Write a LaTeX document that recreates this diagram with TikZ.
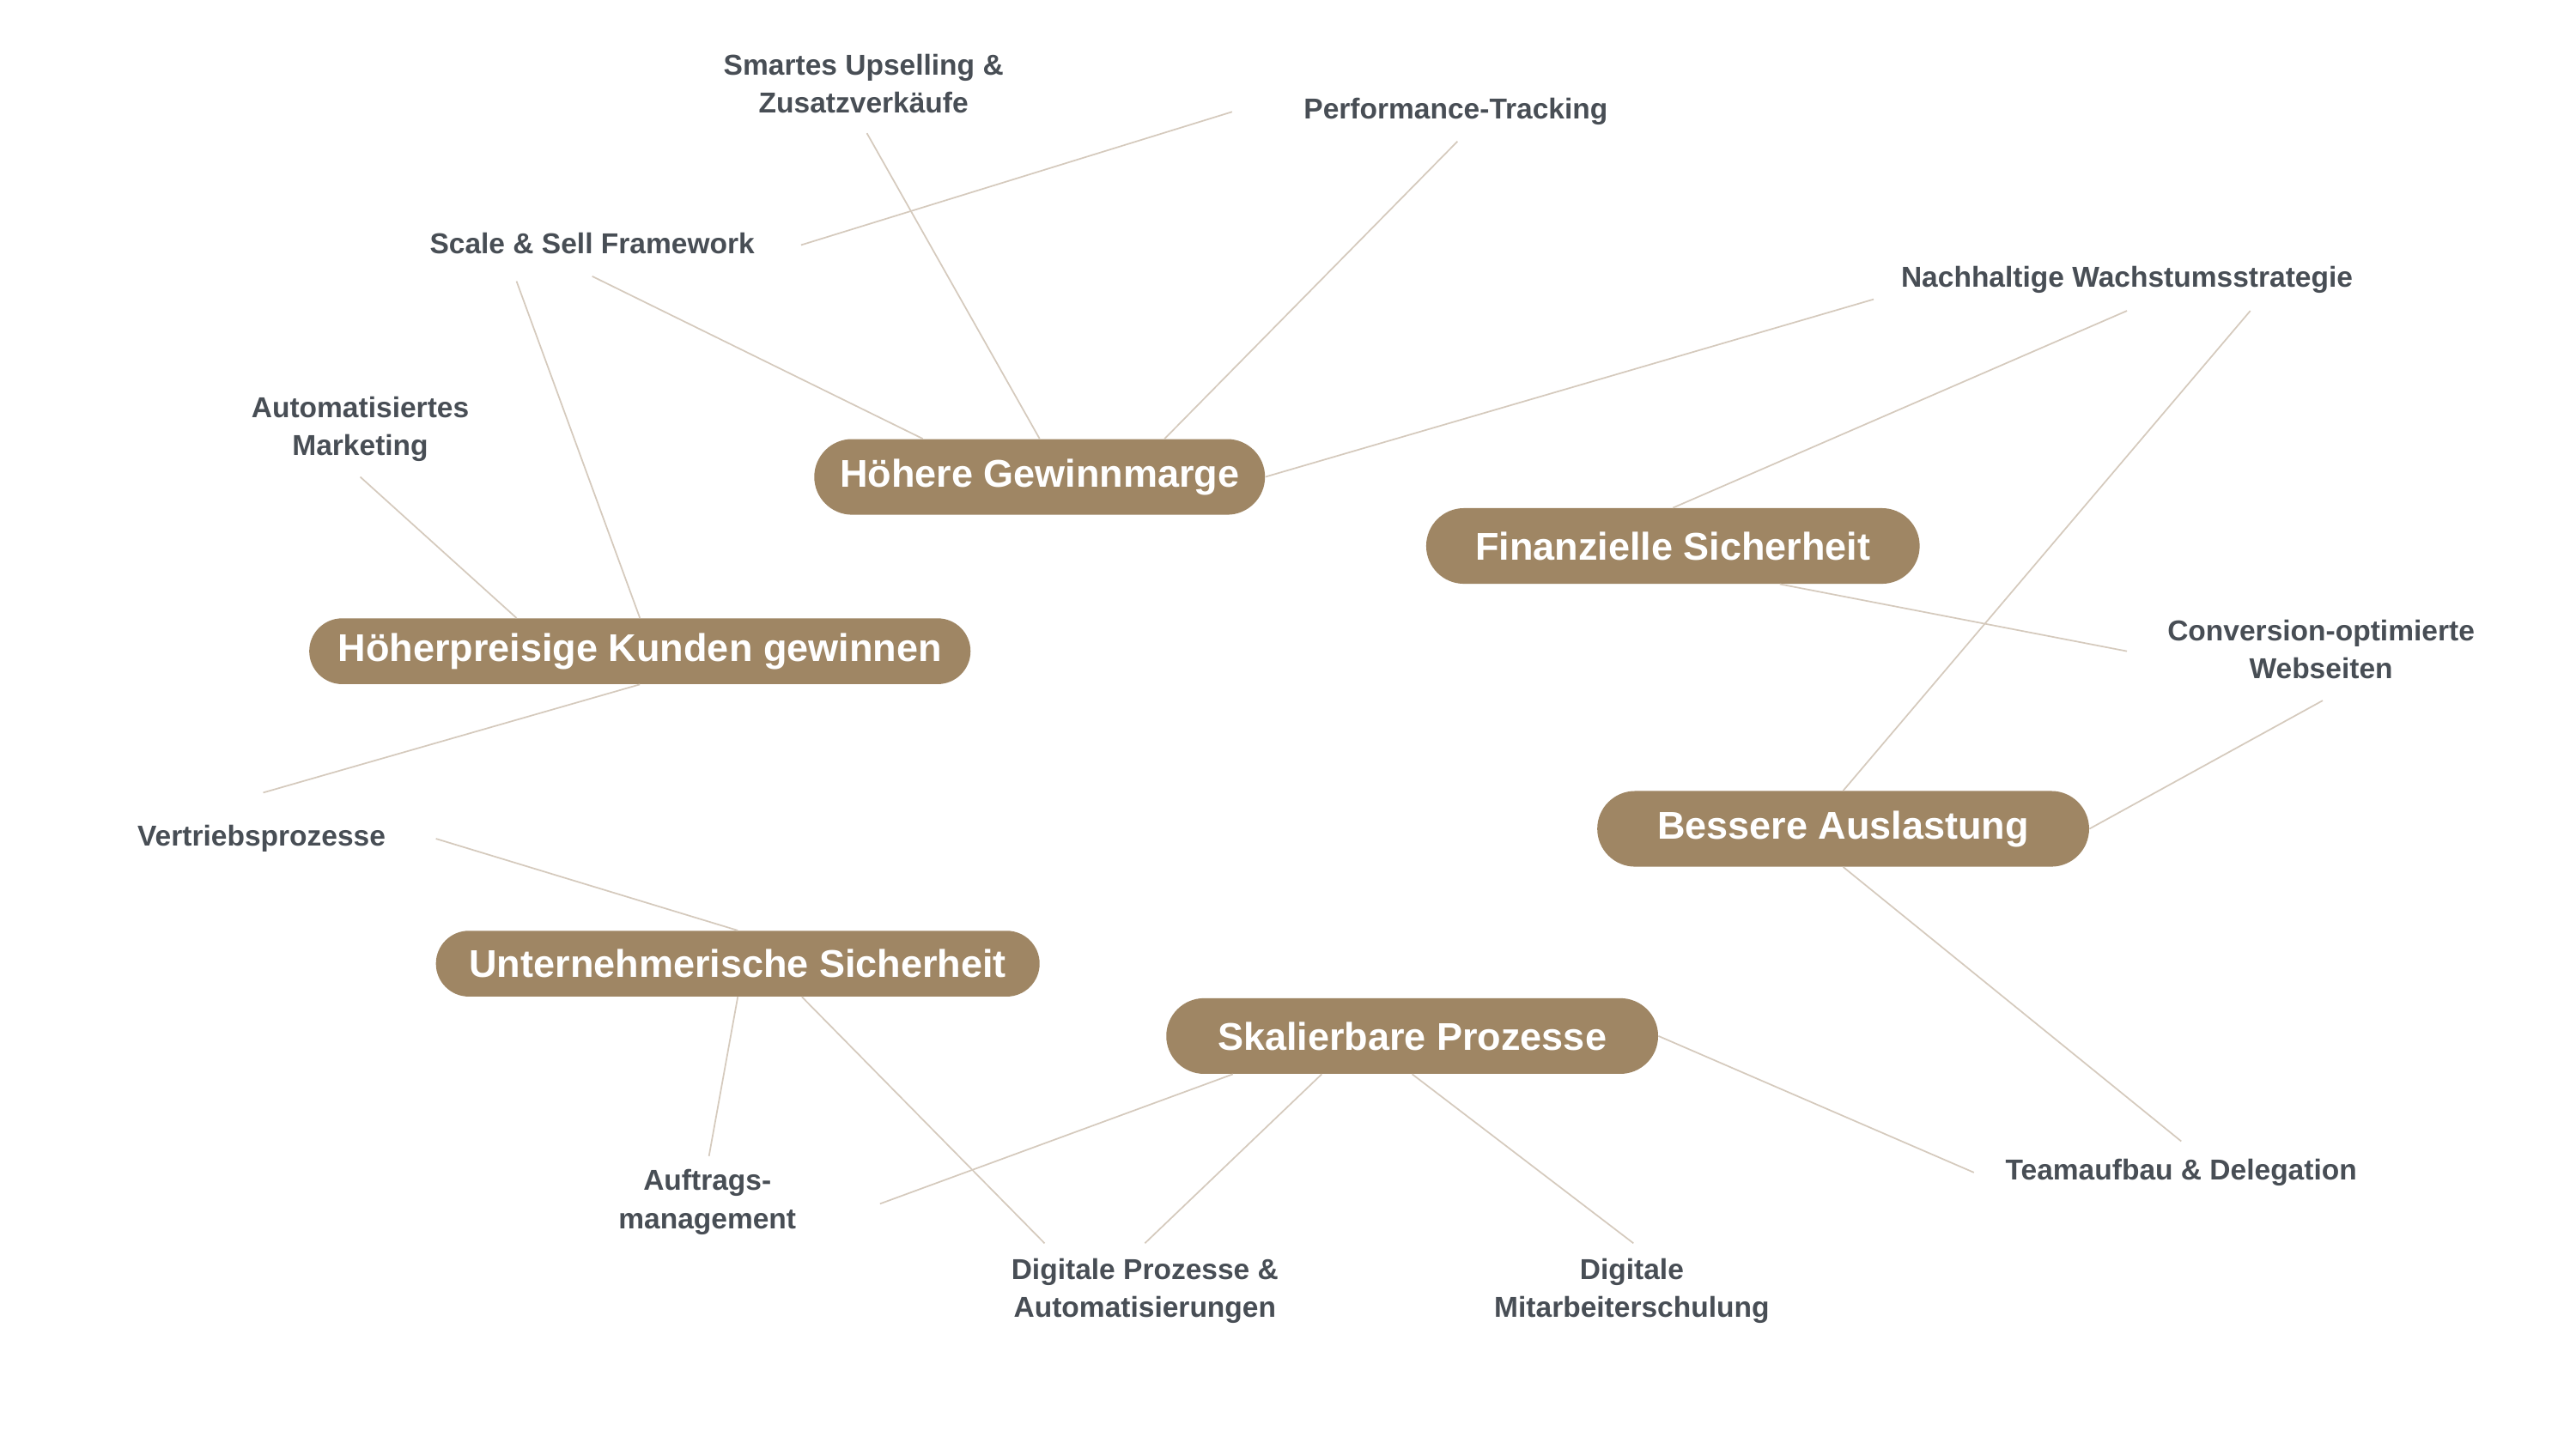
\documentclass[tikz,border=0pt]{standalone}
\usepackage{fontspec}
\setmainfont{Liberation Sans}
\usetikzlibrary{calc}
\definecolor{pillc}{HTML}{9F8664}
\definecolor{linec}{HTML}{D5CABD}
\definecolor{textc}{HTML}{484E55}
\tikzset{
  pill/.style={fill=pillc, text=white, inner sep=0pt, align=center,
    font=\fontsize{23.5}{28}\selectfont\bfseries},
  lbl/.style={text=textc, inner sep=0pt, align=center,
    font=\fontsize{17.5}{23}\selectfont\bfseries},
  conn/.style={draw=linec, line width=0.9pt}
}
\begin{document}
\begin{tikzpicture}[x=1pt,y=-1pt]
\useasboundingbox (0,0) rectangle (1566,881);
\fill[white] (0,0) rectangle (1566,881);
% pills
\node[pill, minimum width=274, minimum height=46, rounded corners=23] (hg) at (632,290) {Höhere Gewinnmarge};
\node[pill, minimum width=300, minimum height=46, rounded corners=23] (fs) at (1017,332) {Finanzielle Sicherheit};
\node[pill, minimum width=402, minimum height=40, rounded corners=20] (hk) at (389,396) {Höherpreisige Kunden gewinnen};
\node[pill, minimum width=299, minimum height=46, rounded corners=23] (ba) at (1120.5,504) {Bessere Auslastung};
\node[pill, minimum width=367, minimum height=40, rounded corners=20] (us) at (448.5,586) {Unternehmerische Sicherheit};
\node[pill, minimum width=299, minimum height=46, rounded corners=23] (sp) at (858.5,630) {Skalierbare Prozesse};
% labels
\node[lbl] (up) at (525,51) {Smartes Upselling \&\\Zusatzverkäufe};
\node[lbl] (pt) at (885,68) {Performance-Tracking};
\node[lbl] (ss) at (360,148) {Scale \& Sell Framework};
\node[lbl] (nw) at (1293,170) {Nachhaltige Wachstumsstrategie};
\node[lbl] (am) at (219,261) {Automatisiertes\\Marketing};
\node[lbl] (cw) at (1411,395) {Conversion-optimierte\\Webseiten};
\node[lbl] (vp) at (159,510) {Vertriebsprozesse};
\node[lbl] (td) at (1326,713) {Teamaufbau \& Delegation};
\node[lbl] (au) at (430,731) {Auftrags-\\management};
\node[lbl] (dp) at (696,785) {Digitale Prozesse \&\\Automatisierungen};
\node[lbl] (dm) at (992,785) {Digitale\\Mitarbeiterschulung};
% connectors
\draw[conn] ($(ss)+(127,1)$) -- ($(pt)+(-136,0)$);
\draw[conn] ($(up)+(2,30)$) -- (hg.north);
\draw[conn] ($(pt)+(1,18)$) -- ($(hg.north)+(76,0)$);
\draw[conn] ($(ss)+(0,20)$) -- ($(hg.north)+(-71,0)$);
\draw[conn] ($(nw)+(-154,12)$) -- (hg.east);
\draw[conn] ($(nw)+(0,19)$) -- (fs.north);
\draw[conn] ($(nw)+(75,19)$) -- (ba.north);
\draw[conn] ($(ss)+(-46,23)$) -- (hk.north);
\draw[conn] ($(am)+(0,29)$) -- ($(hk.north)+(-75,0)$);
\draw[conn] (hk.south) -- ($(vp)+(1,-28)$);
\draw[conn] ($(fs.south)+(65,0)$) -- ($(cw)+(-118,1)$);
\draw[conn] ($(cw)+(1,31)$) -- (ba.east);
\draw[conn] (ba.south) -- ($(td)+(0,-19)$);
\draw[conn] ($(vp)+(106,0)$) -- (us.north);
\draw[conn] (us.south) -- ($(au)+(1,-28)$);
\draw[conn] ($(us.south)+(39,0)$) -- ($(dp)+(-61,-29)$);
\draw[conn] ($(sp.south)+(-109,0)$) -- ($(au)+(105,1)$);
\draw[conn] ($(sp.south)+(-55,0)$) -- ($(dp)+(0,-29)$);
\draw[conn] (sp.south) -- ($(dm)+(1,-29)$);
\draw[conn] (sp.east) -- ($(td)+(-126,0)$);
\end{tikzpicture}
\end{document}
